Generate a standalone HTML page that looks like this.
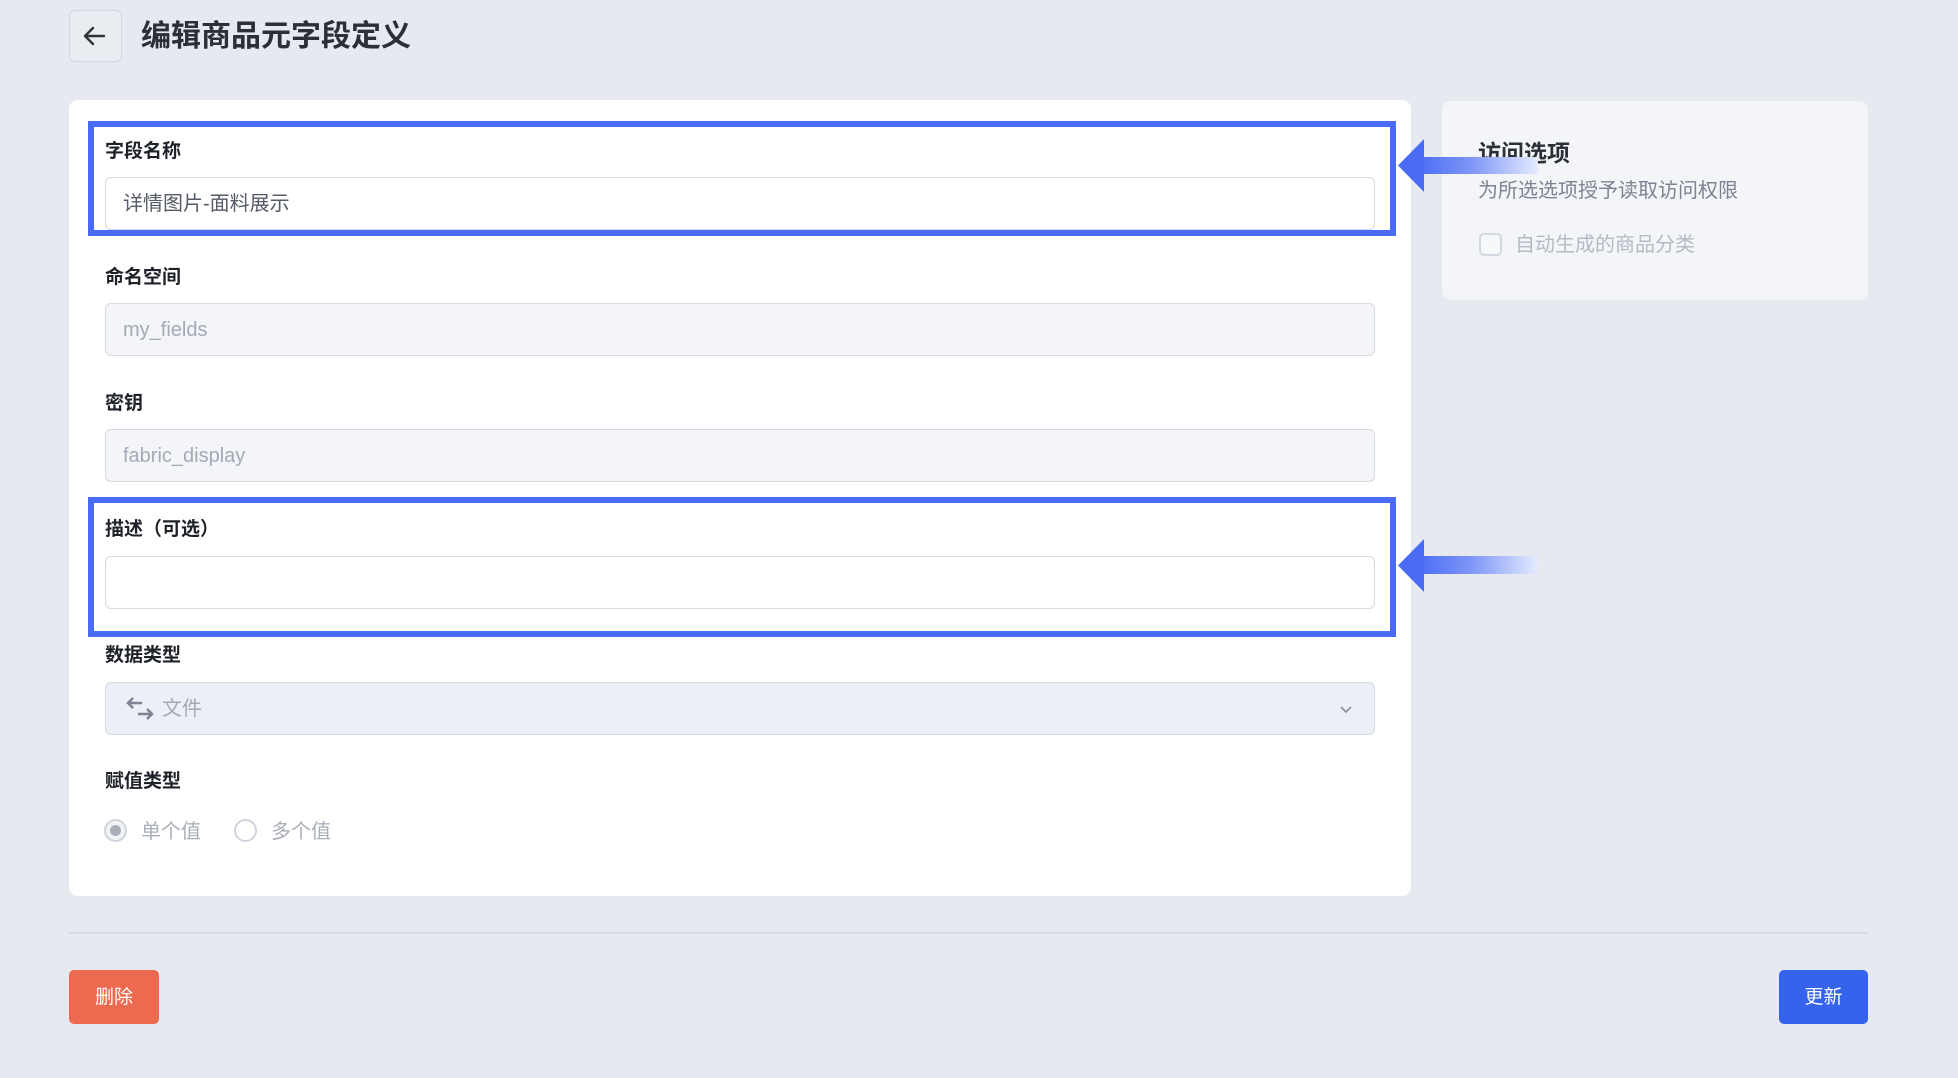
<!DOCTYPE html>
<html><head><meta charset="utf-8"><style>
*{box-sizing:border-box;margin:0;padding:0}
body{width:1958px;height:1078px;background:#e6e9ef;position:relative;overflow:hidden;font-family:"Liberation Sans","Noto Sans CJK SC",sans-serif;color:#1f2329}
.a{position:absolute}
.lbl{position:absolute;left:105px;font-size:19px;font-weight:bold;color:#1f2329;line-height:22px}
.inp{position:absolute;left:105px;width:1270px;height:53px;border:1.5px solid #d5d9e2;border-radius:6px;background:#fff;font-size:20px;line-height:53px;padding-left:17px;color:#555b66}
.dis{background:#f4f5f8;color:#a3a9b5}
.hl{position:absolute;left:88px;width:1308px;border:6px solid #4a6cf5}
.arr{position:absolute;left:1398px;width:140px;height:53px}
</style></head><body>
<div class="a" style="left:69px;top:10px;width:53px;height:52px;border:1.5px solid #d3d7df;border-radius:6px;background:#e9ecf1"></div>
<svg class="a" style="left:80px;top:21px" width="30" height="30" viewBox="0 0 30 30"><path d="M24 15H6M13 7l-8 8 8 8" fill="none" stroke="#333" stroke-width="2.4" stroke-linecap="round" stroke-linejoin="round"/></svg>
<div class="a" style="left:141px;top:18px;font-size:30px;font-weight:bold;color:#2b2f36;line-height:38px">编辑商品元字段定义</div>

<div class="a" style="left:69px;top:100px;width:1342px;height:796px;background:#fff;border-radius:9px"></div>

<div class="lbl" style="top:141px">字段名称</div>
<div class="inp" style="top:177px">详情图片-面料展示</div>
<div class="lbl" style="top:267px">命名空间</div>
<div class="inp dis" style="top:303px">my_fields</div>
<div class="lbl" style="top:393px">密钥</div>
<div class="inp dis" style="top:429px">fabric_display</div>
<div class="lbl" style="top:519px">描述（可选）</div>
<div class="inp" style="top:556px"></div>
<div class="lbl" style="top:645px">数据类型</div>
<div class="inp" style="top:682px;background:#eceff5;color:#a3a9b5;padding-left:56px">文件</div>
<svg class="a" style="left:125px;top:696px" width="30" height="26" viewBox="0 0 30 26"><path d="M3 7h14M8 2L3 7l5 5M27 18H13M22 13l5 5-5 5" fill="none" stroke="#7d8390" stroke-width="2.5"/></svg>
<svg class="a" style="left:1339px;top:704px" width="14" height="12" viewBox="0 0 14 12"><path d="M2 3l5 5 5-5" fill="none" stroke="#8a909c" stroke-width="1.6"/></svg>
<div class="lbl" style="top:771px">赋值类型</div>
<div class="a" style="left:104px;top:819px;width:23px;height:23px;border:2px solid #cfd4dd;border-radius:50%;background:#f2f3f6"></div>
<div class="a" style="left:110px;top:825px;width:11px;height:11px;border-radius:50%;background:#a9aeb8"></div>
<div class="a" style="left:141px;top:819px;font-size:20px;color:#a9aeb8;line-height:26px">单个值</div>
<div class="a" style="left:234px;top:819px;width:23px;height:23px;border:2px solid #cfd4dd;border-radius:50%;background:#fff"></div>
<div class="a" style="left:271px;top:819px;font-size:20px;color:#a9aeb8;line-height:26px">多个值</div>

<div class="hl" style="top:121px;height:115px"></div>
<div class="hl" style="top:497px;height:140px"></div>

<div class="a" style="left:1442px;top:101px;width:426px;height:199px;background:#f4f5f9;border-radius:9px"></div>
<div class="a" style="left:1478px;top:139px;font-size:23px;font-weight:bold;color:#2b2f36;line-height:28px">访问选项</div>
<div class="a" style="left:1478px;top:178px;font-size:20px;color:#7d8390;line-height:26px">为所选选项授予读取访问权限</div>
<div class="a" style="left:1479px;top:233px;width:23px;height:23px;border:2px solid #d3d7df;border-radius:5px;background:#f7f8fa"></div>
<div class="a" style="left:1515px;top:232px;font-size:20px;color:#b4b9c3;line-height:26px">自动生成的商品分类</div>

<svg class="arr" style="top:139px" viewBox="0 0 140 53" width="140" height="53"><defs><linearGradient id="g" x1="0" x2="1"><stop offset="0" stop-color="#4a6cf5"/><stop offset="0.45" stop-color="#7f97f7"/><stop offset="1" stop-color="#e4ebff"/></linearGradient></defs><rect x="20" y="18" width="120" height="17" fill="url(#g)"/><path d="M0 26.5L26 0V53Z" fill="#4a6cf5"/></svg>
<svg class="arr" style="top:539px" viewBox="0 0 140 53" width="140" height="53"><rect x="20" y="17" width="120" height="18" fill="url(#g)"/><path d="M0 26.5L26 0V53Z" fill="#4a6cf5"/></svg>

<div class="a" style="left:69px;top:932px;width:1799px;height:2px;background:#d7dae1"></div>
<div class="a" style="left:69px;top:970px;width:90px;height:54px;background:#ec6a4f;border-radius:5px;color:#fff;font-size:19px;line-height:56px;text-align:center">删除</div>
<div class="a" style="left:1779px;top:970px;width:89px;height:54px;background:#3563ec;border-radius:5px;color:#fff;font-size:19px;line-height:56px;text-align:center">更新</div>
</body></html>
